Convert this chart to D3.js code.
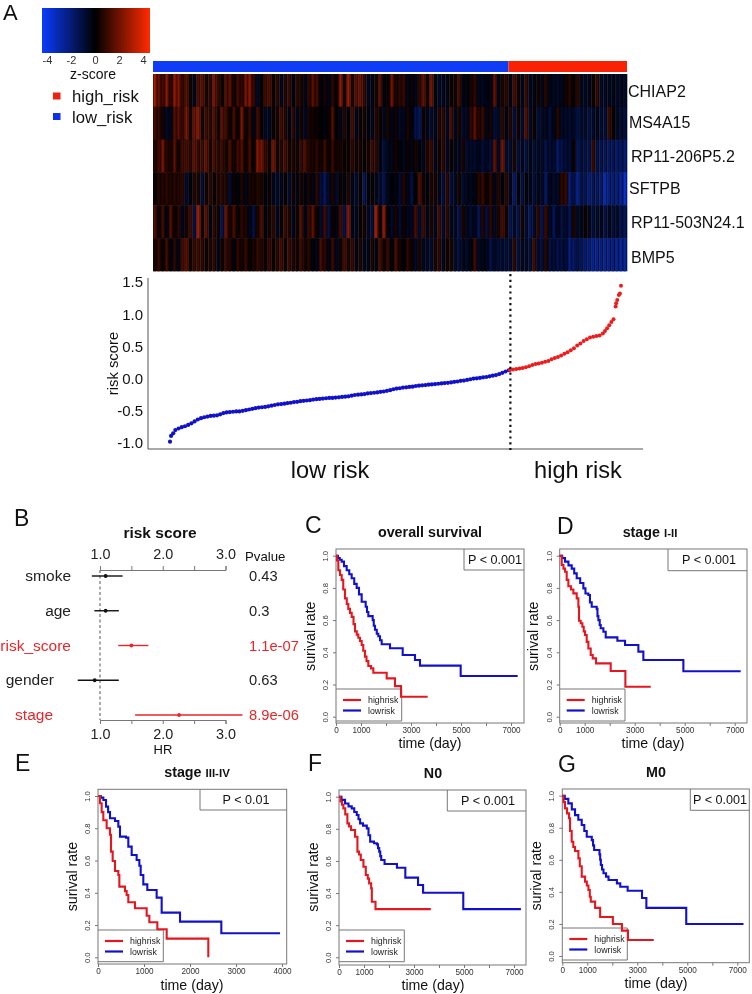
<!DOCTYPE html>
<html><head><meta charset="utf-8">
<script src="https://cdn.jsdelivr.net/npm/d3@7/dist/d3.min.js"></script>
<style>
html,body{margin:0;padding:0;background:#fff}
svg{display:block;filter:blur(0.3px)}
text{font-family:"Liberation Sans",Arial,sans-serif;fill:#111}
</style></head><body>
<svg id="c" width="752" height="994"></svg>
<script>
// ---------- Panel A data ----------
const geneNames = ["CHIAP2","MS4A15","RP11-206P5.2","SFTPB","RP11-503N24.1","BMP5"];
const geneLabelX = [628,629,631,629,631,631];
const geneLabelY = [91,122,156,188,222,257];
const zRow1 = [3.5,2.2,1.5,3,1,3.2,2.8,1.2,2,0.4,-0.5,1.8,2,0.6,1,2.6,1.2,0.3,1.8,2,0.5,1.5,1,2.6,3,1.2,-0.8,0.2,1.5,1.8,0.3,1,-0.6,0.8,1.2,-0.3,1,0.6,-0.5,1,
 2,1.5,-0.3,0.5,-0.5,1,0.2,3.2,0.5,3.4,0.6,2,2.4,1.2,-0.6,-0.4,0.5,2,-0.3,0.3,2.4,0.6,1,1.2,-0.5,0.4,-0.6,1,2.2,0.4,2.6,-0.3,-0.8,-0.6,-0.5,0.3,0.4,1.5,-0.4,-0.3,
 0.5,1,-0.6,-0.7,-0.4,-0.5,2.2,-0.5,0.6,1,-0.4,1.6,0.4,-0.6,1.2,-0.7,-0.4,0.4,-0.5,0.8,-0.5,-0.7,-0.8,-0.6,0.4,0.8,0.2,1,-0.6,-0.7,-0.5,0.3,1.2,-0.8,-0.7,-0.6,-0.5,-0.8,-0.7,-0.8];
const zRow2 = [1.5,1.2,0.5,-0.8,-0.6,1.8,2,1.2,2.8,0.5,2.4,3,0.6,1.4,1,1.8,0.5,2,1.4,0.4,1.5,0.3,2.6,0.4,1.2,-0.5,1.5,0.3,-0.8,-0.6,0.3,0.5,1.5,0.8,-0.4,1,-0.5,0.4,-0.7,0.5,
 0.4,0.3,0,-0.3,0.3,1.8,0,-0.5,0.8,-0.3,1.6,-0.5,0.3,0.5,-0.3,-0.6,0.8,0.3,-0.6,0.5,-0.5,0.4,-0.8,-0.6,0.5,-0.3,-1.5,-2,0.3,-0.5,-1,-0.5,0.8,1,-0.7,1.6,-0.6,0.5,-0.8,-0.7,
 1,2,0.8,1.2,-0.5,0.5,-1.2,-0.8,1,-0.4,0.8,-1.2,0.4,-0.9,1.8,-0.8,0.3,-1.2,-0.8,-0.6,-1.2,-0.5,0.8,-0.8,-0.9,-1,-0.8,-1.5,-1,-0.9,-1.4,-0.8,-0.6,-1,-1.2,1.2,0.2,-0.8,-1,-1.2];
const zRow3 = [0.8,1.5,2.6,0.9,0.6,2,0.4,1.5,1.6,1,2.2,1.2,1.4,2.2,0.7,1.6,1,1.3,0.6,1.6,0.5,1.4,1.8,0.4,1.5,0.2,3,2.6,1.2,0.4,2.6,0.5,0.9,1.6,0.5,0.6,0.4,1.2,1.7,0.8,
 0.6,1,0.4,1.3,0.3,1.2,0.4,0.5,0.3,0.3,1,0.4,0.5,0.2,0.5,1.3,1,-0.4,-1.2,-0.6,-0.5,0.4,-0.3,-0.6,0.3,-0.5,0.5,-0.3,-0.6,0.8,1.2,-0.6,0.4,1,-0.7,0.3,-0.5,-0.7,0.5,-1,
 -0.8,-1,-0.6,-1.2,-0.7,-1.2,2.2,-0.8,2.6,-0.9,-1,0.6,-1.2,-0.7,-1.3,-0.6,-1.1,-0.8,-0.9,-1.5,-1.1,-1,-2.2,-1.6,-1.2,-1.2,0.3,-2,-1.2,-1.5,-1.6,1.2,-1.5,-1.6,-1.8,-2,-1.8,-2.2,-2,-2.4];
const zRow4 = [0.3,0.8,0.8,1,0.7,0.9,0.8,1,-1,-0.3,0.8,0.6,-1.2,0.5,1,0.3,0.8,0.9,0.7,-1,0.3,-0.3,0.7,-0.5,0.6,0.5,0.8,0.6,-0.3,0.3,-0.6,-0.8,-0.6,0.2,-1,0.4,-0.4,0.5,-0.3,0.5,
 -0.5,1,-1.2,-2,-0.8,0.6,-0.9,0.3,-0.4,0.8,-0.5,-1,0.3,-1.8,-0.3,0.2,-0.6,-1,-1.5,-0.5,-0.2,-0.4,-1,0.8,-0.5,-1.3,-0.2,1.8,0.4,-0.3,0.6,0.5,-0.6,-1.2,1,-1.2,-0.7,0.5,-1,-0.6,
 -0.6,-0.4,0.8,1.2,0.3,1,-0.5,0.8,-0.3,1,-0.6,-2.2,-0.3,-1.4,-0.4,-0.6,-1.2,-0.6,-0.8,-2,-0.6,-1,-0.8,1,1.2,-2.5,-1.5,-3,-1.6,-1.8,-2.6,-1.8,-2,-2.2,-3.6,-2.6,-2.4,-2.5,-3,-4.2];
const zRow5 = [1.8,0.4,1.4,-0.4,1.8,0.4,1,-0.6,0.5,1.5,-1.4,3.6,0.5,2,-0.4,1,0.4,-1.6,2.2,0.5,1.6,0.3,1,0.7,-0.5,-1.4,0.6,1.8,-0.3,0.5,1,-0.7,0.3,1.3,0.7,-0.6,0.4,1.8,-0.4,1.2,
 2,0.4,-1,1.4,-1.5,0.3,-0.4,1.5,-1.5,3,-0.5,-0.7,0.3,0.5,-0.8,-1.2,3.4,0.3,3,-0.3,-0.8,0.5,-1,0.3,-0.6,-0.7,1.6,-1,1.4,-0.5,0.6,-0.6,1.5,-1,1,-0.6,-0.7,-1.6,0.5,-0.6,
 -1,-0.6,-1.8,0.8,-1.4,1,-0.8,0.6,1.6,0.4,-1.8,-0.9,-1.6,0.5,-1,-2,-0.9,1,-1.6,1.2,-0.8,-1.8,-0.7,-1.4,-1,-1.8,0.6,-0.8,-0.6,0.3,-0.7,-1.2,-0.9,-0.6,-1.5,-0.7,-1.2,-0.9,-1.6,-1.8];
const zRow6 = [0.6,1.2,0.3,1.4,-0.4,1,-0.5,1.6,2,0.4,1.2,1.4,1,0.4,0.7,1,-0.5,0.4,1.3,0.8,-0.3,1,0.5,1.2,0.2,0.6,1.2,0.8,0.3,1.3,0.3,0.9,1.5,0.3,1.3,0.7,0.4,1.3,0.5,0.8,
 -0.3,-0.5,1.6,1,-0.5,1.3,-0.6,0.4,1.6,0.6,1.2,-0.4,0.7,-0.6,-0.5,0.6,-0.4,1.6,0.4,1.2,-0.3,1.6,0.5,-0.2,1,0.4,-0.8,0.6,-0.7,-0.8,-1,0.6,1,-0.7,0.4,0.6,-0.9,-1.2,-0.6,-0.8,
 -0.4,1.4,-0.8,-0.5,-0.6,-1.6,-0.8,-1.2,-1,-1.2,-1,1,-1.4,-0.6,-0.8,-1.2,1.4,-1,-1.2,0.8,-1.4,-1.2,-1.6,-1.4,-1.2,-2.6,-2.2,-1.6,-2,-2.4,-2.6,-3,-2.8,-2.6,-3,-2.8,-2.6,-3,-3.2,-3.2];
const zRows = [zRow1,zRow2,zRow3,zRow4,zRow5,zRow6];
const colorbarTicks = [-4,-2,0,2,4];
const groupNames = ["low_risk","high_risk"];
const groupShare = [0,0.75,1];
const lowRiskPoints = [[0,-.98],[1,-.89],[3,-.85],[5,-.80],[8,-.775],[11,-.755],[14,-.74],[17,-.72],[20,-.695],[23,-.665],[26,-.635],[29,-.615],[32,-.60],[35,-.59],[38,-.58],[41,-.575],[44,-.57],[47,-.555],[50,-.535],[53,-.525],[56,-.52],[59,-.515],[62,-.51],[65,-.51],[68,-.50],[71,-.49],[74,-.48],[77,-.47],[80,-.46],[83,-.45],[86,-.445],[89,-.44],[92,-.43],[95,-.42],[98,-.41],[101,-.40],[104,-.395],[107,-.39],[110,-.38],[113,-.375],[116,-.365],[119,-.36],[122,-.35],[125,-.345],[128,-.34],[131,-.335],[134,-.325],[137,-.32],[140,-.315],[143,-.31],[146,-.305],[149,-.30],[152,-.30],[155,-.295],[158,-.29],[161,-.285],[164,-.28],[167,-.275],[170,-.265],[173,-.255],[176,-.25],[179,-.245],[182,-.24],[185,-.23],[188,-.225],[191,-.22],[194,-.215],[197,-.205],[200,-.20],[203,-.19],[206,-.18],[209,-.165],[212,-.155],[215,-.15],[218,-.14],[221,-.135],[224,-.13],[227,-.125],[230,-.115],[233,-.11],[236,-.105],[239,-.10],[242,-.095],[245,-.09],[248,-.085],[251,-.08],[254,-.075],[257,-.07],[260,-.065],[263,-.06],[266,-.05],[269,-.045],[272,-.035],[275,-.03],[278,-.02],[281,-.01],[284,0],[287,.005],[290,.01],[293,.02],[296,.025],[299,.035],[302,.045],[305,.055],[308,.07],[311,.09],[314,.11],[317,.13]];
const highRiskPoints = [[318,.135],[321,.14],[324,.15],[327,.155],[330,.165],[333,.175],[336,.19],[339,.21],[342,.225],[345,.235],[348,.245],[351,.26],[354,.275],[357,.30],[360,.32],[363,.335],[366,.36],[369,.385],[372,.41],[375,.44],[378,.47],[381,.515],[384,.545],[387,.585],[390,.61],[393,.64],[396,.65],[399,.66],[402,.67],[405,.70],[407,.74],[409,.78],[411,.83],[413,.88],[415,.92],[417,1.12],[417.5,1.17],[418.5,1.22],[420,1.30],[421,1.32],[422,1.44]];
const riskTicks = [-1,-0.5,0,0.5,1,1.5];
const riskCut = 318.5;

// ---------- Panel B data ----------
const forestNames = ["smoke","age","risk_score","gender","stage"];
const forestLow = [0.87,0.91,1.29,0.645,1.56];
const forestHR = [1.09,1.09,1.50,0.915,2.26];
const forestHigh = [1.36,1.30,1.77,1.30,3.27];
const forestP = ["0.43","0.3","1.1e-07","0.63","8.9e-06"];
const forestSig = [false,false,true,false,true];
const forestLabelEnd = [71,71,71,54,53];
const forestTicks = [1,1.5,2,2.5,3];

// ---------- Survival curves: [time, survival] ----------
const cHigh=[[0,1],[40,.97],[93,.91],[160,.88],[227,.85],[290,.79],[360,.735],[430,.70],[493,.67],[560,.645],[627,.62],[700,.575],[760,.53],[830,.51],[893,.49],[960,.47],[1027,.445],[1090,.41],[1160,.373],[1220,.345],[1293,.315],[1400,.30],[1493,.273],[2027,.238],[2360,.19],[2600,.124],[3667,.124]];
const cLow=[[0,1],[80,.985],[150,.975],[227,.963],[320,.935],[427,.91],[530,.885],[627,.86],[730,.825],[827,.80],[920,.76],[1027,.714],[1187,.683],[1240,.65],[1293,.625],[1467,.60],[1510,.565],[1560,.54],[1630,.515],[1693,.50],[1760,.475],[1827,.45],[2160,.425],[2667,.383],[3160,.352],[3360,.317],[4987,.253],[7267,.253]];
const dHigh=[[0,1],[80,.942],[150,.92],[213,.90],[280,.85],[347,.81],[450,.79],[547,.766],[680,.735],[747,.683],[773,.596],[840,.58],[907,.559],[960,.53],[1013,.507],[1080,.465],[1147,.424],[1240,.383],[1320,.362],[1453,.331],[2040,.284],[2627,.186],[3640,.186]];
const dLow=[[0,1],[100,.985],[213,.963],[350,.94],[480,.92],[580,.89],[680,.86],[820,.83],[947,.797],[1030,.765],[1147,.756],[1210,.71],[1280,.683],[1480,.67],[1510,.625],[1547,.60],[1600,.57],[1640,.549],[1747,.528],[1840,.493],[2307,.472],[2613,.445],[3147,.404],[3347,.352],[4947,.282],[7240,.282]];
const eHigh=[[0,1],[43,.955],[80,.90],[116,.85],[188,.80],[260,.76],[283,.655],[319,.597],[370,.535],[442,.51],[464,.438],[587,.41],[623,.386],[659,.341],[804,.304],[1058,.258],[1116,.217],[1290,.174],[1493,.116],[2398,0]];
const eLow=[[0,1],[60,.99],[116,.975],[174,.934],[220,.90],[261,.862],[370,.845],[442,.81],[478,.748],[609,.742],[659,.686],[732,.634],[840,.603],[899,.568],[928,.51],[985,.452],[1072,.417],[1275,.37],[1384,.277],[1783,.221],[2681,.149],[3956,.149]];
const fHigh=[[0,1],[60,.97],[120,.95],[174,.927],[250,.89],[335,.834],[400,.815],[482,.793],[643,.751],[737,.658],[800,.64],[871,.606],[978,.564],[1072,.512],[1150,.49],[1206,.46],[1286,.43],[1313,.346],[1460,.30],[3672,.30]];
const fLow=[[0,1],[100,.98],[241,.958],[380,.94],[509,.927],[610,.905],[710,.886],[780,.86],[844,.834],[960,.82],[1112,.803],[1180,.76],[1246,.72],[1400,.71],[1514,.703],[1560,.68],[1608,.658],[1650,.63],[1688,.606],[1822,.581],[2318,.558],[2653,.496],[3162,.45],[3363,.402],[4971,.30],[7276,.30]];
const gHigh=[[0,1],[50,.96],[107,.921],[190,.89],[268,.859],[310,.78],[375,.713],[440,.68],[509,.655],[643,.609],[700,.56],[777,.495],[911,.464],[980,.44],[1045,.412],[1100,.37],[1139,.339],[1313,.30],[1514,.243],[2023,.20],[2385,.158],[2626,.10],[3658,.10]];
const gLow=[[0,1],[100,.98],[241,.952],[380,.915],[509,.879],[640,.85],[777,.817],[880,.78],[978,.744],[1179,.723],[1230,.69],[1273,.661],[1487,.634],[1515,.60],[1541,.568],[1590,.54],[1648,.516],[1750,.495],[1849,.474],[2184,.453],[2318,.432],[2613,.407],[3189,.362],[3363,.30],[4958,.20],[7249,.20]];

const kmLong = [0,1000,2000,3000,4000,5000,6000,7000];
const kmLongLabels = ["0","1000","","3000","","5000","","7000"];
const kmShort = [0,1000,2000,3000,4000];
const kmShortLabels = ["0","1000","2000","3000","4000"];
const kmY = [0,0.2,0.4,0.6,0.8,1];

const panels = [
 {letter:"C",lx:305,ly:533,title:["overall survival"],tx:430,ty:537,left:336,right:524,top:549,bottom:723,y1:555.7,y0:716.7,xMax:7000,xPx:175,P:"P < 0.001",pLeft:464,pBottom:570,pc:495,legR:401.7,legT:689,legB:721,ylx:315,xlx:430,xly:748,hi:cHigh,lo:cLow,ticks:kmLong,labels:kmLongLabels},
 {letter:"D",lx:557,ly:534,title:["stage ","I-II"],tx:650,ty:537,left:559.7,right:747,top:549,bottom:723,y1:555.7,y0:716.7,xMax:7000,xPx:175,P:"P < 0.001",pLeft:668,pBottom:570.7,pc:709,legR:625,legT:689,legB:721,ylx:538,xlx:653,xly:748,hi:dHigh,lo:dLow,ticks:kmLong,labels:kmLongLabels},
 {letter:"E",lx:15,ly:771,title:["stage ","III-IV"],tx:197,ty:777,left:98,right:286.7,top:789.3,bottom:964,y1:796,y0:957.3,xMax:4000,xPx:184,P:"P < 0.01",pLeft:200,pBottom:810,pc:246,legR:163.3,legT:930,legB:961.7,ylx:77,xlx:192,xly:990,hi:eHigh,lo:eLow,ticks:kmShort,labels:kmShortLabels},
 {letter:"F",lx:308,ly:771,title:["N0"],tx:433,ty:778,left:339,right:526,top:790,bottom:965,y1:796.7,y0:957.3,xMax:7000,xPx:175,P:"P < 0.001",pLeft:447.3,pBottom:811,pc:488,legR:404.3,legT:930,legB:961.7,ylx:318,xlx:433,xly:990,hi:fHigh,lo:fLow,ticks:kmLong,labels:kmLongLabels},
 {letter:"G",lx:558,ly:772,title:["M0"],tx:656,ty:777,left:562.3,right:749.3,top:789,bottom:962.7,y1:795.7,y0:956,xMax:7000,xPx:175,P:"P < 0.001",pLeft:690.3,pBottom:810.3,pc:720,legR:627.3,legT:928,legB:960,ylx:541,xlx:656,xly:988,hi:gHigh,lo:gLow,ticks:kmLong,labels:kmLongLabels}
];

const RED="#e3171f", BLUE="#1111cc", GREY="#777";
const svg = d3.select("#c");

function txt(g,x,y,s,size,o={}){
  const t=g.append("text").attr("x",x).attr("y",y).attr("font-size",size).text(s);
  if(o.anchor)t.attr("text-anchor",o.anchor);
  if(o.bold)t.attr("font-weight","bold");
  if(o.fill)t.style("fill",o.fill);
  return t;
}

// ---------- Panel A ----------
const A = svg.append("g");
txt(A,3,20,"A",22);
const zColor = d3.scaleLinear().domain([-4.5,0,4.5]).range(["#0a3cff","#000000","#ff2a00"]).clamp(true);
const cellColor = d3.scaleLinear().domain([-5,0,5.5]).range(["#0a3cff","#000000","#ff2a00"]).clamp(true);
const zX = d3.scaleLinear().domain([-4.5,4.5]).range([41.5,149.5]);
A.append("g").attr("shape-rendering","crispEdges").selectAll("rect").data(d3.range(42,150)).join("rect")
 .attr("x",d=>d).attr("y",8).attr("width",1).attr("height",45).attr("fill",d=>zColor(zX.invert(d+0.5)));
A.append("g").selectAll("text").data(colorbarTicks).join("text")
 .attr("x",d=>zX(d)).attr("y",64).attr("text-anchor","middle").attr("font-size",11).style("fill","#333").text(d=>d);
txt(A,93,79,"z-score",14,{anchor:"middle"});
const legendY = d3.scaleOrdinal().domain(["high_risk","low_risk"]).range([96,116.5]);
[["high_risk","#f02010"],["low_risk","#0f2ff0"]].forEach(([n,c])=>{
  A.append("rect").attr("x",53).attr("y",legendY(n)-3.5).attr("width",7.5).attr("height",7).attr("fill",c);
  txt(A,72,legendY(n)+6,n,16.7);
});
const hmX0=153, hmX1=627, hmY0=74, hmY1=271;
const groupX = d3.scaleLinear().domain([0,1]).range([hmX0,hmX1]);
A.selectAll("rect.grp").data(groupNames).join("rect").attr("class","grp")
 .attr("x",(d,i)=>groupX(groupShare[i])).attr("y",61).attr("height",11)
 .attr("width",(d,i)=>groupX(groupShare[i+1])-groupX(groupShare[i]))
 .attr("fill",d=>d==="low_risk"?"#0f3df5":"#fa2205");
const rowY = d3.scaleBand().domain(geneNames).range([hmY0,hmY1]);
zRows.forEach((row,r)=>{
  const cx = d3.scaleBand().domain(d3.range(row.length)).range([hmX0,hmX1]);
  const gr = A.append("g");
  gr.selectAll("rect.o").data(row).join("rect").attr("class","o")
   .attr("x",(d,i)=>cx(i)).attr("y",rowY(geneNames[r])).attr("width",cx.bandwidth()+0.3).attr("height",rowY.bandwidth()+0.3)
   .attr("fill",d=>cellColor(d*0.55));
  gr.selectAll("rect.c").data(row).join("rect").attr("class","c")
   .attr("x",(d,i)=>cx(i)+cx.bandwidth()*0.2).attr("y",rowY(geneNames[r])).attr("width",cx.bandwidth()*0.5).attr("height",rowY.bandwidth()+0.3)
   .attr("fill",d=>cellColor(d));
});
geneNames.forEach((g,i)=>txt(A,geneLabelX[i],geneLabelY[i]+6,g,16));

// Risk score
const rx = d3.scaleLinear().domain([0,422]).range([170,621]);
const ry = d3.scaleLinear().domain([-1,1.5]).range([443,282]);
const riskG = svg.append("g");
riskG.append("path").attr("d","M148,278V449H643").attr("fill","none").attr("stroke","#555").attr("stroke-width",1);
riskG.append("g").attr("transform","translate(148,0)")
 .call(d3.axisLeft(ry).tickValues(riskTicks).tickFormat(d=>d.toFixed(1)).tickSize(0).tickPadding(5))
 .call(g=>g.select(".domain").remove())
 .call(g=>g.selectAll("text").attr("font-size",15).style("fill","#111").style("font-family",'"Liberation Sans"'));
txt(riskG,0,0,"risk score",14.8,{anchor:"middle"}).attr("transform","translate(118,363.5) rotate(-90)");
riskG.append("g").selectAll("circle").data(lowRiskPoints).join("circle")
 .attr("cx",d=>rx(d[0])).attr("cy",d=>ry(d[1])).attr("r",2.1).attr("fill",BLUE);
riskG.append("g").selectAll("circle").data(highRiskPoints).join("circle")
 .attr("cx",d=>rx(d[0])).attr("cy",d=>ry(d[1])).attr("r",2).attr("fill","#ee1c1c");
riskG.append("line").attr("x1",rx(riskCut)).attr("x2",rx(riskCut)).attr("y1",274).attr("y2",450)
 .attr("stroke","#111").attr("stroke-width",2.2).attr("stroke-dasharray","2.2,3.6");
txt(riskG,330,478,"low risk",23.6,{anchor:"middle"});
txt(riskG,578,478,"high risk",23.6,{anchor:"middle"});

// ---------- Panel B ----------
const B = svg.append("g");
txt(B,14,526,"B",23);
txt(B,160,538,"risk score",15.5,{anchor:"middle",bold:true});
const fx = d3.scaleLinear().domain([1,3]).range([100,225.5]);
const fy = d3.scalePoint().domain(forestNames).range([576,715]);
const fmt = d3.format(".1f");
const fTop = d3.axisTop(fx).tickValues(forestTicks).tickSize(4).tickFormat(d=>Number.isInteger(d)?fmt(d):"").tickPadding(7);
const fBot = d3.axisBottom(fx).tickValues(forestTicks).tickSize(4).tickFormat(d=>Number.isInteger(d)?fmt(d):"").tickPadding(5);
[[fTop,570],[fBot,720]].forEach(([ax,y])=>{
  B.append("g").attr("transform",`translate(0,${y})`).call(ax)
   .call(g=>g.selectAll("path,line").attr("stroke","#777"))
   .call(g=>g.selectAll("text").attr("font-size",14.4).style("fill","#222").style("font-family",'"Liberation Sans"'));
});
B.append("line").attr("x1",fx(1)).attr("x2",fx(1)).attr("y1",570).attr("y2",720).attr("stroke","#555").attr("stroke-dasharray","3,2.5");
txt(B,245,561,"Pvalue",13.2);
forestNames.forEach((n,i)=>{
  const c = forestSig[i]?"#e8262a":"#111";
  const y = fy(n);
  B.append("line").attr("x1",fx(forestLow[i])).attr("x2",fx(forestHigh[i])).attr("y1",y).attr("y2",y).attr("stroke",c).attr("stroke-width",1.4);
  B.append("circle").attr("cx",fx(forestHR[i])).attr("cy",y).attr("r",1.9).attr("fill",c);
  txt(B,forestLabelEnd[i],y+5,n,15.5,{anchor:"end",fill:forestSig[i]?"#e8262a":"#222"});
  txt(B,249,y+5,forestP[i],14.7,{fill:forestSig[i]?"#e8262a":"#222"});
});
txt(B,163,754,"HR",13,{anchor:"middle"});

// ---------- Survival panels ----------
panels.forEach(p=>{
  const g = svg.append("g");
  const x = d3.scaleLinear().domain([0,p.xMax]).range([p.left,p.left+p.xPx]);
  const y = d3.scaleLinear().domain([0,1]).range([p.y0,p.y1]);
  txt(g,p.lx,p.ly,p.letter,23);
  const t = txt(g,p.tx,p.ty,p.title[0],14.3,{anchor:"middle",bold:true});
  if(p.title[1]) t.append("tspan").attr("font-size",11.5).text(p.title[1]);
  g.append("rect").attr("x",p.left).attr("y",p.top).attr("width",p.right-p.left).attr("height",p.bottom-p.top).attr("fill","none").attr("stroke",GREY);
  g.append("path").attr("d",`M${p.pLeft},${p.top}V${p.pBottom}H${p.right}`).attr("fill","none").attr("stroke",GREY);
  g.append("path").attr("d",`M${p.left},${p.legT}H${p.legR}V${p.legB}H${p.left}`).attr("fill","none").attr("stroke",GREY);
  txt(g,p.pc,(p.top+p.pBottom)/2+4.5,p.P,12.6,{anchor:"middle"});
  g.append("g").attr("transform",`translate(0,${p.bottom})`)
   .call(d3.axisBottom(x).tickValues(p.ticks).tickSize(3).tickPadding(1).tickFormat((d,i)=>p.labels[i]))
   .call(a=>a.select(".domain").remove())
   .call(a=>a.selectAll("line").attr("stroke",GREY))
   .call(a=>a.selectAll("text").attr("font-size",8.2).style("fill","#333").style("font-family",'"Liberation Sans"'));
  g.append("g").attr("transform",`translate(${p.left},0)`)
   .call(d3.axisLeft(y).tickValues(kmY).tickSize(3).tickFormat(d3.format(".1f")))
   .call(a=>a.select(".domain").remove())
   .call(a=>a.selectAll("line").attr("stroke",GREY))
   .call(a=>a.selectAll("text").attr("font-size",7.6).attr("x",0).attr("dy",0).attr("y",0).attr("text-anchor","middle")
      .attr("transform","translate(-8,0) rotate(-90)").style("fill","#333").style("font-family",'"Liberation Sans"'));
  txt(g,0,0,"surival rate",14.2,{anchor:"middle"}).attr("transform",`translate(${p.ylx},${(p.y0+p.y1)/2}) rotate(-90)`);
  txt(g,p.xlx,p.xly,"time (day)",14.2,{anchor:"middle"});
  const line = d3.line().x(d=>x(d[0])).y(d=>y(d[1])).curve(d3.curveStepAfter);
  g.append("path").attr("d",line(p.lo)).attr("fill","none").attr("stroke",BLUE).attr("stroke-width",2.1);
  g.append("path").attr("d",line(p.hi)).attr("fill","none").attr("stroke",RED).attr("stroke-width",2.1);
  [["highrisk",RED,p.legT+11],["lowrisk",BLUE,p.legT+21.5]].forEach(([n,c,ly])=>{
    g.append("line").attr("x1",p.left+7).attr("x2",p.left+25).attr("y1",ly).attr("y2",ly).attr("stroke",c).attr("stroke-width",2.2);
    txt(g,p.left+32,ly+3,n,8.8,{fill:"#222"});
  });
});
</script>
</body></html>
